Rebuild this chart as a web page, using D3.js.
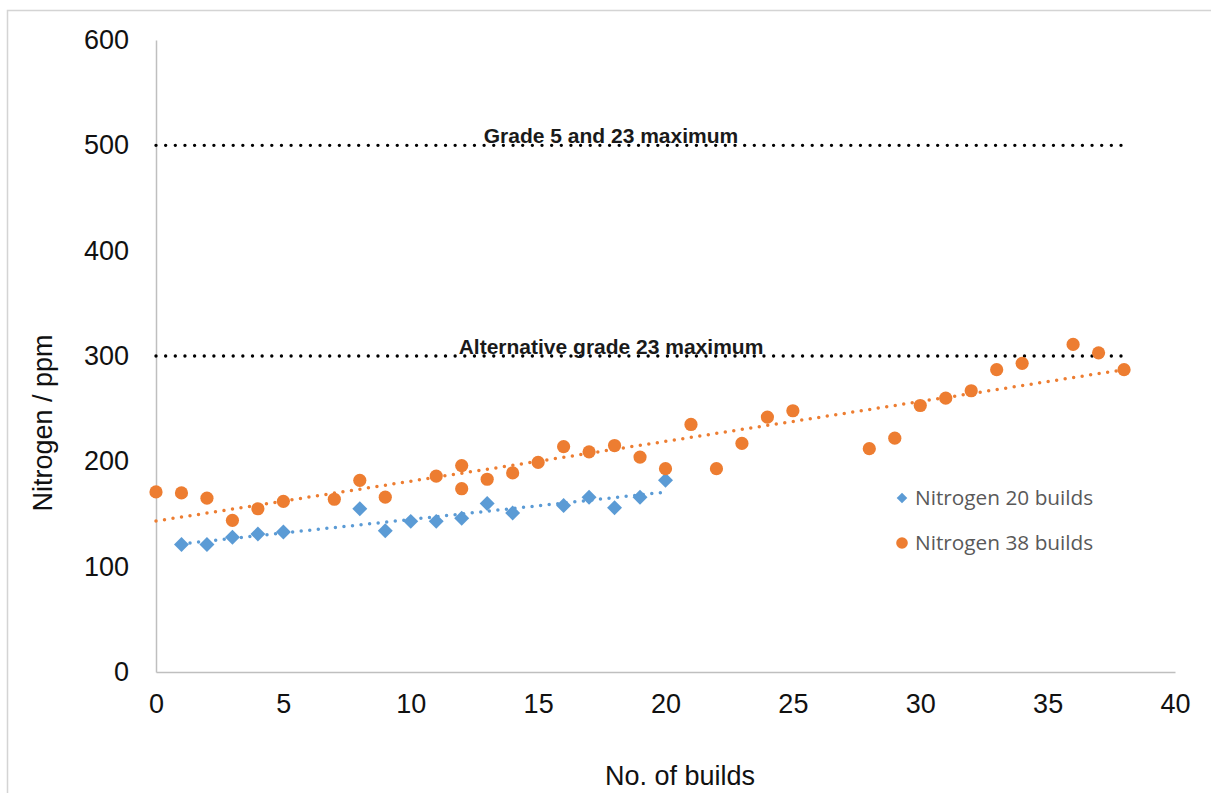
<!DOCTYPE html>
<html>
<head>
<meta charset="utf-8">
<script src="https://cdn.jsdelivr.net/npm/d3@7"></script>
<style>
    body { margin: 0; background: #fff; }
    svg { display: block; }
</style>
</head>
<body>
<div id="chart"></div>
<script>
// builds vs nitrogen (ppm)
const builds20 = [1, 2, 3, 4, 5, 8, 9, 10, 11, 12, 13, 14, 16, 17, 18, 19, 20];
const nitrogen20 = [121, 121, 128, 131, 133, 155, 134, 143, 143, 146, 160, 151, 158, 166, 156, 166, 182];

const builds38 = [0, 1, 2, 3, 4, 5, 7, 8, 9, 11, 12, 12, 13, 14, 15, 16, 17, 18, 19, 20, 21, 22, 23, 24, 25, 28, 29, 30, 31, 32, 33, 34, 36, 37, 38];
const nitrogen38 = [171, 170, 165, 144, 155, 162, 164, 182, 166, 186, 196, 174, 183, 189, 199, 214, 209, 215, 204, 193, 235, 193, 217, 242, 248, 212, 222, 253, 260, 267, 287, 293, 311, 303, 287];

const limitValues = [500, 300];
const limitLabels = ['Grade 5 and 23 maximum', 'Alternative grade 23 maximum'];
const limitRange = [0, 38];

const xTicks = [0, 5, 10, 15, 20, 25, 30, 35, 40];
const yTicks = [0, 100, 200, 300, 400, 500, 600];
const legendLabels = ['Nitrogen 20 builds', 'Nitrogen 38 builds'];

const W = 1211, H = 793;
const margin = {top: 40, right: 36, bottom: 121, left: 156};
const blue = '#5B9BD5', orange = '#ED7D31';

const svg = d3.select('#chart').append('svg')
    .attr('width', W)
    .attr('height', H);

// thin frame round the picture
svg.append('path')
    .attr('d', `M7.5,${H} V10.5 H${W}`)
    .attr('fill', 'none')
    .attr('stroke', '#d4d4d4')
    .attr('stroke-width', 1.5);

const x = d3.scaleLinear().domain([0, 40]).range([margin.left, W - margin.right]);
const y = d3.scaleLinear().domain([0, 600]).range([H - margin.bottom, margin.top]);

// axes
const xAxis = svg.append('g')
    .attr('transform', `translate(0,${y(0)})`)
    .call(d3.axisBottom(x).tickValues(xTicks).tickSize(0).tickPadding(22));
const yAxis = svg.append('g')
    .attr('transform', `translate(${x(0)},0)`)
    .call(d3.axisLeft(y).tickValues(yTicks).tickSize(0).tickPadding(27));

[xAxis, yAxis].forEach(g => {
    g.select('.domain').attr('stroke', '#bfbfbf').attr('stroke-width', 1.5);
    g.selectAll('text')
        .style('font-family', '"Liberation Sans", Arial, sans-serif')
        .style('font-size', '27px')
        .attr('fill', '#111');
});
xAxis.selectAll('text').attr('dy', '0.71em');

// limit lines
limitValues.forEach((v, i) => {
    svg.append('line')
        .attr('x1', x(limitRange[0]))
        .attr('x2', x(limitRange[1]))
        .attr('y1', y(v))
        .attr('y2', y(v))
        .attr('stroke', '#000')
        .attr('stroke-width', 3.4)
        .attr('stroke-linecap', 'round')
        .attr('stroke-dasharray', '0 9.65');
    svg.append('text')
        .attr('x', 611)
        .attr('y', y(v) - 2)
        .attr('text-anchor', 'middle')
        .style('font-family', '"Liberation Sans", Arial, sans-serif')
        .style('font-size', '21px')
        .style('font-weight', 'bold')
        .attr('fill', '#1a1a1a')
        .text(limitLabels[i]);
});

// least squares trend lines
function fit(xs, ys) {
    const mx = d3.mean(xs), my = d3.mean(ys);
    const sxy = d3.sum(xs, (v, i) => (v - mx) * (ys[i] - my));
    const sxx = d3.sum(xs, v => (v - mx) * (v - mx));
    const b = sxy / sxx;
    return v => my + b * (v - mx);
}

function trend(xs, ys, color) {
    const f = fit(xs, ys);
    const ends = d3.extent(xs);
    svg.append('line')
        .attr('x1', x(ends[0]))
        .attr('x2', x(ends[1]))
        .attr('y1', y(f(ends[0])))
        .attr('y2', y(f(ends[1])))
        .attr('stroke', color)
        .attr('stroke-width', 3.5)
        .attr('stroke-linecap', 'round')
        .attr('stroke-dasharray', '0 8.6');
}

trend(builds20, nitrogen20, blue);
trend(builds38, nitrogen38, orange);

// points
const diamond = d3.symbol(d3.symbolSquare, 112);

svg.append('g').selectAll('path')
    .data(builds20)
    .join('path')
    .attr('d', diamond)
    .attr('transform', (d, i) => `translate(${x(d)},${y(nitrogen20[i])}) rotate(45)`)
    .attr('fill', blue);

svg.append('g').selectAll('circle')
    .data(builds38)
    .join('circle')
    .attr('cx', d => x(d))
    .attr('cy', (d, i) => y(nitrogen38[i]))
    .attr('r', 6.6)
    .attr('fill', orange);

// legend
const legend = svg.append('g').attr('transform', 'translate(902,0)');
const legendY = [498, 543];
legend.append('path')
    .attr('d', d3.symbol(d3.symbolSquare, 56))
    .attr('transform', `translate(0,${legendY[0]}) rotate(45)`)
    .attr('fill', blue);
legend.append('circle')
    .attr('cy', legendY[1])
    .attr('r', 5.8)
    .attr('fill', orange);
legend.selectAll('text')
    .data(legendLabels)
    .join('text')
    .attr('x', 13)
    .attr('y', (d, i) => legendY[i] + 7)
    .style('font-family', '"Open Sans", sans-serif')
    .style('font-size', '20.8px')
    .attr('fill', '#595959')
    .text(d => d);

// axis titles
svg.append('text')
    .attr('transform', `translate(52,423) rotate(-90)`)
    .attr('text-anchor', 'middle')
    .style('font-family', '"Liberation Sans", Arial, sans-serif')
    .style('font-size', '27px')
    .attr('fill', '#111')
    .text('Nitrogen / ppm');

svg.append('text')
    .attr('x', 680)
    .attr('y', 785)
    .attr('text-anchor', 'middle')
    .style('font-family', '"Liberation Sans", Arial, sans-serif')
    .style('font-size', '27px')
    .attr('fill', '#111')
    .text('No. of builds');
</script>
</body>
</html>
